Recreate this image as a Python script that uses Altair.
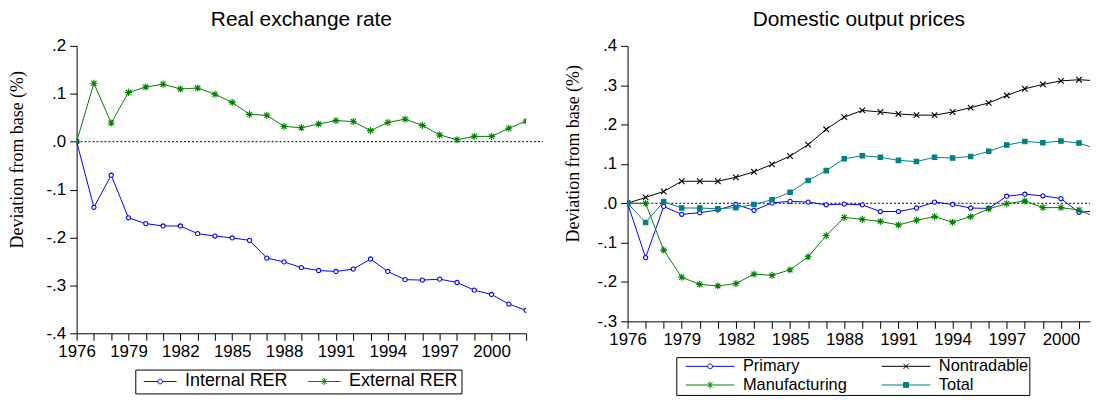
import altair as alt
import pandas as pd

# ---------------- data ----------------
years = list(range(1976, 2003))

internal_rer = [0.000, -0.137, -0.070, -0.159, -0.171, -0.176, -0.176, -0.192, -0.197, -0.201,
                -0.206, -0.243, -0.251, -0.263, -0.269, -0.271, -0.266, -0.245, -0.271, -0.288,
                -0.289, -0.287, -0.294, -0.310, -0.319, -0.339, -0.352]
external_rer = [0.000, 0.122, 0.039, 0.103, 0.114, 0.120, 0.110, 0.112, 0.099, 0.082,
                0.057, 0.055, 0.032, 0.029, 0.037, 0.044, 0.042, 0.023, 0.040, 0.047,
                0.034, 0.014, 0.004, 0.011, 0.011, 0.028, 0.043]

primary = [0.000, -0.138, -0.008, -0.028, -0.024, -0.017, -0.003, -0.018, 0.001, 0.005,
           0.003, -0.004, -0.002, -0.004, -0.021, -0.021, -0.012, 0.003, -0.003, -0.012,
           -0.013, 0.018, 0.023, 0.019, 0.012, -0.023, -0.019]
nontradable = [0.000, 0.015, 0.030, 0.056, 0.056, 0.056, 0.066, 0.080, 0.099, 0.120,
               0.149, 0.188, 0.219, 0.236, 0.232, 0.227, 0.224, 0.224, 0.232, 0.243,
               0.255, 0.274, 0.291, 0.302, 0.311, 0.314, 0.311]
manufacturing = [0.000, 0.000, -0.119, -0.188, -0.206, -0.210, -0.204, -0.180, -0.183, -0.169,
                 -0.136, -0.082, -0.036, -0.041, -0.046, -0.055, -0.043, -0.034, -0.048, -0.034,
                 -0.014, -0.001, 0.006, -0.011, -0.011, -0.017, -0.037]
total = [0.000, -0.049, 0.004, -0.012, -0.012, -0.014, -0.011, -0.003, 0.009, 0.028,
         0.058, 0.083, 0.113, 0.121, 0.117, 0.109, 0.106, 0.117, 0.115, 0.119,
         0.132, 0.148, 0.157, 0.154, 0.158, 0.153, 0.138]

left_names = ["Internal RER", "External RER"]
right_names = ["Primary", "Nontradable", "Manufacturing", "Total"]
left_y_ticks = [-0.4, -0.3, -0.2, -0.1, 0.0, 0.1, 0.2]
right_y_ticks = [-0.3, -0.2, -0.1, 0.0, 0.1, 0.2, 0.3, 0.4]
zero_level = [0.0]

left_title = "Real exchange rate"
right_title = "Domestic output prices"
y_title = "Deviation from base (%)"


def to_long(names, arrays):
    rows = []
    for n, arr in zip(names, arrays):
        for yr, v in zip(years, arr):
            rows.append({"year": yr, "value": v, "series": n})
    return pd.DataFrame(rows)


df_left = to_long(left_names, [internal_rer, external_rer])
df_right = to_long(right_names, [primary, nontradable, manufacturing, total])
df_zero = pd.DataFrame({"value": zero_level})

# ---------------- styles ----------------
BLUE, GREEN, BLACK, TEAL = "#0000ff", "#008000", "#000000", "#008080"
SANS = "Liberation Sans"
SERIF = "Liberation Serif"

ASTER = "M-1.6,0L1.6,0M0,-1.6L0,1.6M-1.15,-1.15L1.15,1.15M-1.15,1.15L1.15,-1.15"
XMK = "M-1.3,-1.3L1.3,1.3M-1.3,1.3L1.3,-1.3"


def f(v):
    return f"{v:.4f}"


def lp_circle(half):
    r = 2.4 / half
    return (f"M-1,0L{f(-r)},0M{f(r)},0L1,0M{f(-r)},0A{f(r)},{f(r)},0,1,1,{f(r)},0"
            f"A{f(r)},{f(r)},0,1,1,{f(-r)},0Z")


def lp_aster(half):
    a = 3.5 / half
    d = 2.5 / half
    return (f"M-1,0L1,0M0,{f(-a)}L0,{f(a)}M{f(-d)},{f(-d)}L{f(d)},{f(d)}"
            f"M{f(-d)},{f(d)}L{f(d)},{f(-d)}")


def lp_x(half):
    a = 2.6 / half
    return f"M-1,0L1,0M{f(-a)},{f(-a)}L{f(a)},{f(a)}M{f(-a)},{f(a)}L{f(a)},{f(-a)}"


def lp_square(half):
    h = 2.5 / half
    s = f"M-1,0L1,0M{f(-h)},{f(-h)}L{f(h)},{f(-h)}L{f(h)},{f(h)}L{f(-h)},{f(h)}Z"
    for k in [-1.5, -0.5, 0.5, 1.5]:
        yy = k / half
        s += f"M{f(-h)},{f(yy)}L{f(h)},{f(yy)}"
    return s


def x_axis(xmax):
    return alt.Axis(values=[y for y in years if y <= xmax], title=None, grid=False,
                    labelExpr="(datum.value - 1976) % 3 == 0 && datum.value <= 2000 ? '' + datum.value : ''",
                    labelFlush=False, labelOverlap=False, labelFont=SANS, labelFontSize=17,
                    labelColor="black", labelPadding=3, tickSize=7, tickColor="black",
                    domainColor="black", domainWidth=1, tickWidth=1)


def y_axis(vals, tx, ty):
    return alt.Axis(values=vals, title=y_title, grid=False,
                    labelExpr="(datum.value < -0.001 ? '-' : '') + '.' + format(abs(datum.value) * 10, '.0f')",
                    labelFlush=False, labelOverlap=False, labelFont=SANS, labelFontSize=17,
                    labelColor="black", labelPadding=4, tickSize=7, tickColor="black",
                    domainColor="black", domainWidth=1, tickWidth=1,
                    titleFont=SERIF, titleFontSize=18, titleFontWeight="normal", titleColor="black",
                    titleAngle=-90, titleAlign="center", titleBaseline="middle",
                    titleX=tx, titleY=ty)


def panel(df, names, colors, fills, shapes, sizes, leg_shapes, leg_size, xmax, ydom, yvals,
          width, height, title, title_offset, tx, ty, legend_opts, rule_len):
    X = alt.X("year:Q", scale=alt.Scale(domain=[1976, xmax], nice=False, zero=False),
              axis=x_axis(xmax))
    Y = alt.Y("value:Q", scale=alt.Scale(domain=ydom, nice=False, zero=False),
              axis=y_axis(yvals, tx, ty))
    base = alt.Chart(df)
    rule = alt.Chart(df_zero).mark_rule(color="black", strokeWidth=1, strokeDash=[2, 2]).encode(
        x=alt.value(0), x2=alt.value(rule_len), y=Y)
    lines = base.mark_line(strokeWidth=1, clip=True).encode(
        x=X, y=Y,
        stroke=alt.Stroke("series:N", scale=alt.Scale(domain=names, range=colors), legend=None))
    points = base.transform_filter(f"datum.year <= {xmax}").mark_point(
        opacity=1, strokeWidth=1.1, clip=True).encode(
        x=X, y=Y,
        shape=alt.Shape("series:N", scale=alt.Scale(domain=names, range=shapes), legend=None),
        stroke=alt.Stroke("series:N", scale=alt.Scale(domain=names, range=colors), legend=None),
        fill=alt.Fill("series:N", scale=alt.Scale(domain=names, range=fills), legend=None),
        size=alt.Size("series:N", scale=alt.Scale(domain=names, range=sizes), legend=None))
    leg = alt.Legend(title=None, **legend_opts)
    legend_layer = base.transform_filter("false").mark_point(
        opacity=1, strokeWidth=1, size=leg_size).encode(
        shape=alt.Shape("series:N", scale=alt.Scale(domain=names, range=leg_shapes), legend=leg),
        stroke=alt.Stroke("series:N", scale=alt.Scale(domain=names, range=colors), legend=leg))
    return alt.layer(rule, lines, points, legend_layer).resolve_scale(
        stroke="independent", shape="independent", fill="independent", size="independent"
    ).properties(
        width=width, height=height,
        title=alt.TitleParams(text=title, font=SANS, fontSize=21, fontWeight="normal",
                              color="black", anchor="middle", offset=title_offset))


common_leg = dict(orient="none", strokeColor="black", fillColor="white",
                  labelFont=SANS, labelColor="black",
                  labelOffset=8, symbolStrokeWidth=1, symbolFillColor="white",
                  direction="horizontal")

left = panel(
    df_left, left_names, [BLUE, GREEN], ["white", "white"], ["circle", ASTER], [18, 20],
    [lp_circle(16.5), lp_aster(16.5)], 1089, 2002, [-0.4, 0.2], left_y_ticks,
    452, 289, left_title, 6.5, -59, 114,
    dict(common_leg, legendX=59, legendY=325.5, padding=3, clipHeight=18, labelFontSize=18,
         rowPadding=0, symbolOffset=5, columnPadding=14, symbolSize=1089),
    469)

right = panel(
    df_right, right_names, [BLUE, BLACK, GREEN, TEAL], ["white", "white", "white", TEAL],
    ["circle", XMK, ASTER, "square"], [18, 20, 20, 26],
    [lp_circle(24.5), lp_x(24.5), lp_aster(24.5), lp_square(24.5)], 2401,
    2001.61, [-0.3, 0.4], right_y_ticks,
    465, 277, right_title, 6.5, -54.5, 108,
    dict(common_leg, legendX=49, legendY=313, padding=1, clipHeight=16, labelFontSize=16.5,
         rowPadding=2, symbolOffset=8, columnPadding=26, symbolSize=2401, columns=2),
    465)

chart = alt.hconcat(left, right, spacing=20).properties(
    padding=0, background="white"
).configure_view(stroke=None).configure_axis(labelOverlap=False)

chart.save("out.html", embed_options={"renderer": "svg", "actions": False})
